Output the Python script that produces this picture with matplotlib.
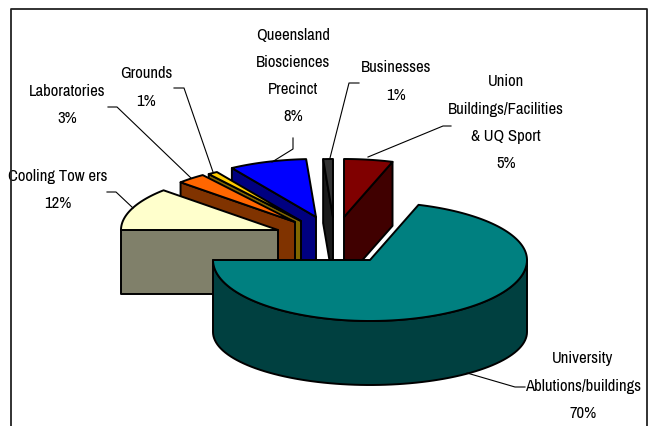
import numpy as np
import matplotlib.pyplot as plt
from matplotlib.patches import Polygon

# shares, going round from the left of the big slice
labels = ['University\nAblutions/buildings', 'Union\nBuildings/Facilities\n& UQ Sport', 'Businesses',
          'Queensland\nBiosciences\nPrecinct', 'Grounds', 'Laboratories', 'Cooling Tow ers']
shares = [70, 5, 1, 8, 1, 3, 12]

tops = ['#008080', '#800000', '#333333', '#0000FF', '#FFCC00', '#FF6600', '#FFFFCC']
walls = ['#004040', '#400000', '#1A1A1A', '#000080', '#806600', '#803300', '#80806A']

# layout in pixels
cx, cy = 370, 260
rx, ry = 157, 61
ry_back = 58
depth = 64
apex = [(cx, cy), (344, 217), (333, 217), (316, 217), (301, 221), (295, 222), (278, 230)]
label_x = [583, 506, 396, 293, 146, 67, 58]
label_y = [359, 82, 68, 35, 74, 91, 176]
leaders = [[(467, 373), (515, 387), (525, 387)],
           [(368, 157), (443, 126), (451, 126)],
           [(330, 158), (349, 83), (359, 83)],
           [(272, 162), (293, 149), (293, 138)],
           [(213, 172), (184, 88), (174, 88)],
           [(191, 178), (117, 107), (108, 107)],
           [(133, 208), (116, 192), (107, 192)]]

plt.rcParams['font.family'] = ['Archivo Narrow', 'Liberation Sans']

fig = plt.figure(figsize=(6.53, 4.26), dpi=100)
ax = fig.add_axes([0, 0, 1, 1])
ax.set_xlim(0, 653)
ax.set_ylim(426, 0)
ax.axis('off')

angles = 180 + np.cumsum([0] + shares) * 3.6


def rim(ox, oy, a0, a1, h=ry_back):
    t = np.radians(np.linspace(a0, a1, 80))
    return np.column_stack([ox + rx * np.cos(t), oy - h * np.sin(t)])


def face(pts, color, z):
    ax.add_patch(Polygon(pts, closed=True, fc=color, ec='black', lw=1.4, joinstyle='round', zorder=z))


# back slices, right ones first, then left to right towards the front
for z, i in enumerate(range(1, 7)):
    ox, oy = apex[i]
    a0, a1 = angles[i] % 360, angles[i + 1] % 360
    # Union shows its near edge, everything left of it the far one
    edge = a0 if i == 1 else a1
    p = rim(ox, oy, edge, edge)[0]
    wall = [(ox, oy), p, (p[0], p[1] + depth), (ox, oy + depth)]
    face(wall, walls[i], 2 * z + 1)
    face(np.vstack([[(ox, oy)], rim(ox, oy, a0, a1)]), tops[i], 2 * z + 2)

# main slice, the side wall bottom is a flatter ellipse than the top
main_depth = 72
front = rim(cx, cy, 180, 360, ry)
lower = rim(cx, cy + main_depth, 360, 180, 53)
face(np.vstack([front, lower]), walls[0], 20)
back = rim(cx, cy, 0, angles[1] % 360)
face(np.vstack([[(cx, cy)], front, back]), tops[0], 21)

for name, share, x, y, pts in zip(labels, shares, label_x, label_y, leaders):
    for k, line in enumerate(name.split('\n') + ['%d%%' % share]):
        ax.text(x, y + k * 27.3, line, ha='center', va='center', fontsize=12, color='black', zorder=30)
    ax.plot(*zip(*pts), color='black', lw=0.8, zorder=25)

# chart frame, open at the bottom of the picture
ax.plot([11, 11, 647, 647], [426, 9, 9, 426], color='#222222', lw=1.3, zorder=40)

plt.savefig('out.png', dpi=100)
plt.close()
